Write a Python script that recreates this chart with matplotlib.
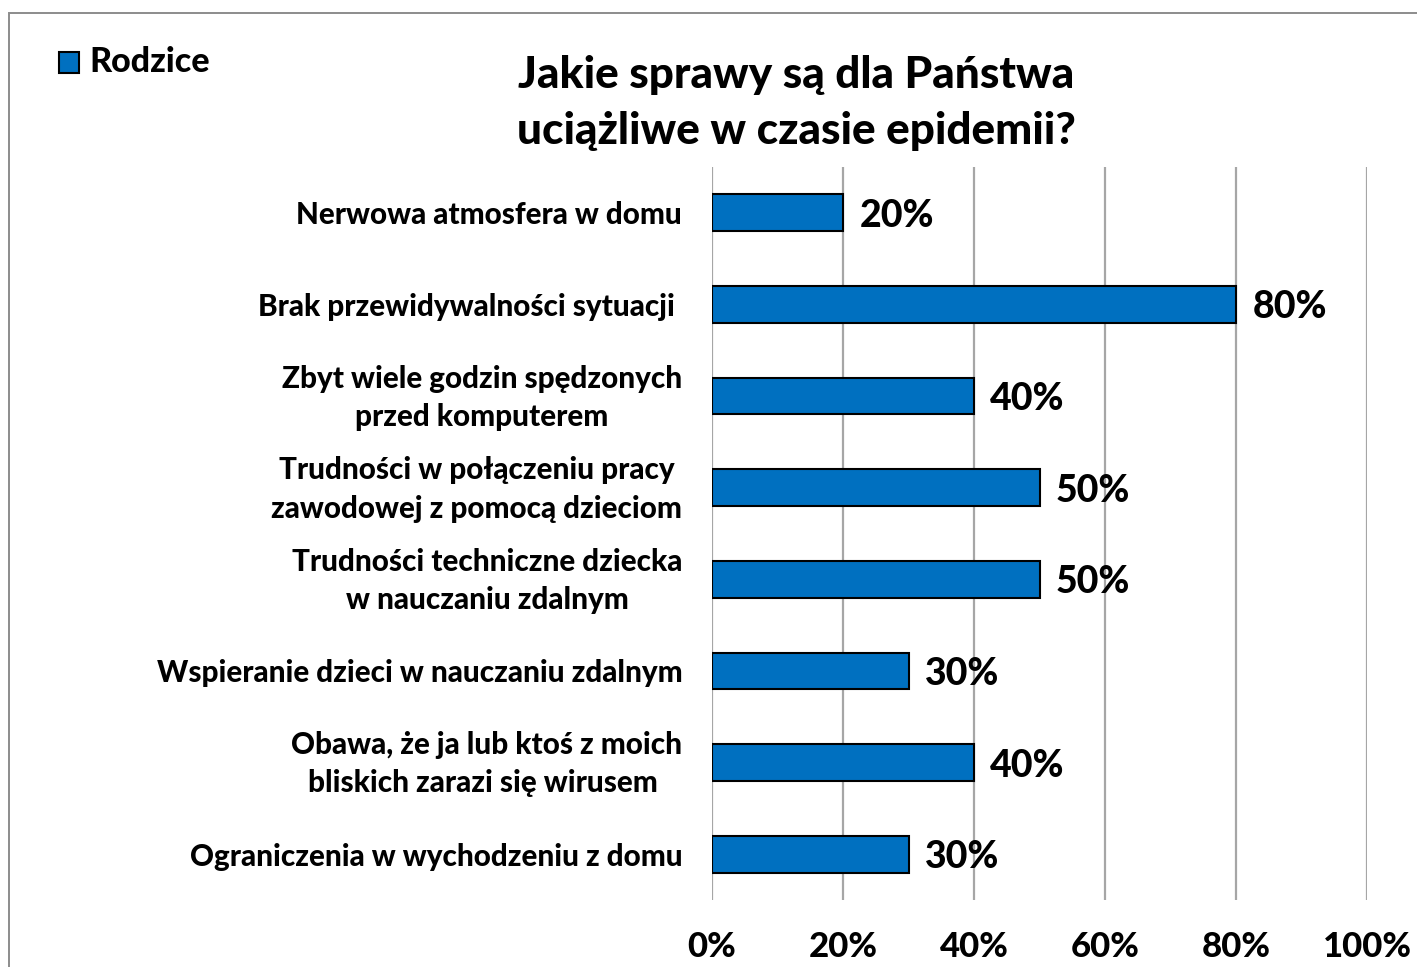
import matplotlib
matplotlib.use("Agg")
from matplotlib import pyplot as plt
from matplotlib.patches import Rectangle
import matplotlib.transforms as mtransforms
import numpy as np

categories = [
    "Nerwowa atmosfera w domu",
    "Brak przewidywalności sytuacji ",
    "Zbyt wiele godzin spędzonych\nprzed komputerem",
    "Trudności w połączeniu pracy\nzawodowej z pomocą dzieciom",
    "Trudności techniczne dziecka\nw nauczaniu zdalnym",
    "Wspieranie dzieci w nauczaniu zdalnym",
    "Obawa, że ja lub ktoś z moich\nbliskich zarazi się wirusem ",
    "Ograniczenia w wychodzeniu z domu",
]
rodzice = [20, 80, 40, 50, 50, 30, 40, 30]
x_ticks = [0, 20, 40, 60, 80, 100]
x_tick_labels = ["0%", "20%", "40%", "60%", "80%", "100%"]

title = "Jakie sprawy są dla Państwa\nuciążliwe w czasie epidemii?"
series_name = "Rodzice"

WEIGHT = 900  # closest to the heavy Calibri bold of the original
plt.rcParams["font.family"] = ["Lato", "DejaVu Sans"]
plt.rcParams["font.weight"] = WEIGHT

W, H = 1417, 967
fig = plt.figure(figsize=(W / 100, H / 100), dpi=100)
ax = fig.add_axes([712 / W, 1 - 900 / H, (1367 - 712) / W, (900 - 167) / H])

bar_color = "#0070C0"
grid_color = "#A6A6A6"

y = np.arange(len(categories))
ax.barh(y, rodzice, height=0.4, color=bar_color, edgecolor="black",
        linewidth=1.5, zorder=3)
for yi, v in zip(y, rodzice):
    ax.text(v + 2.5, yi, f"{v}%", va="center_baseline", ha="left",
            fontsize=27, fontweight=WEIGHT, color="black")

ax.set_xlim(0, 100)
ax.set_ylim(len(categories) - 0.5, -0.5)
ax.set_xticks(x_ticks)
ax.set_xticklabels(x_tick_labels, fontsize=25, fontweight=WEIGHT)
ax.set_yticks(y)
ax.set_yticklabels(categories, fontsize=21.3, fontweight=WEIGHT,
                   linespacing=1.45, multialignment="center")
ax.tick_params(axis="x", length=0, pad=22)
ax.tick_params(axis="y", length=0, pad=21.5)
ax.grid(axis="x", color=grid_color, linewidth=1.6, zorder=0)
for s in ax.spines.values():
    s.set_visible(False)

# two-line labels sit a little higher in the original
up = mtransforms.ScaledTranslation(0, 6 / 100, fig.dpi_scale_trans)
for lab in ax.get_yticklabels():
    if "\n" in lab.get_text():
        lab.set_transform(lab.get_transform() + up)

fig.text(796 / W, 1 - 103 / H, title, ha="center", va="center",
         fontsize=31.8, fontweight=WEIGHT, linespacing=1.5)

# legend
fig.patches.append(Rectangle((59 / W, 1 - 73 / H), 20 / W, 21 / H,
                             transform=fig.transFigure, facecolor=bar_color,
                             edgecolor="black", linewidth=1.5))
fig.text(89 / W, 1 - 62 / H, series_name, ha="left", va="center",
         fontsize=24.5, fontweight=WEIGHT)

# chart border
fig.patches.append(Rectangle((8.5 / W, -0.1), 1.2, 1 - 12.5 / H + 0.1,
                             transform=fig.transFigure, facecolor="none",
                             edgecolor="#8C8C8C", linewidth=1.4))

fig.savefig("out.png", dpi=100)
